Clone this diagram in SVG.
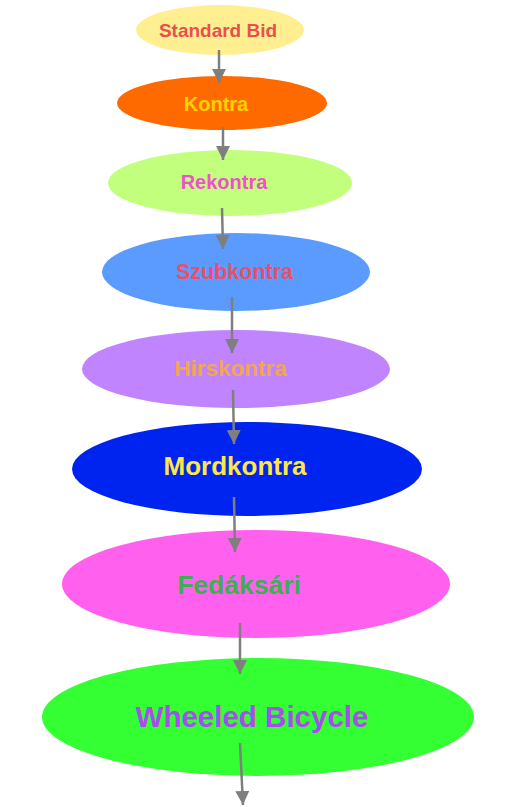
<svg xmlns="http://www.w3.org/2000/svg" width="507" height="807" viewBox="0 0 507 807">
<defs>
<marker id="ah" markerUnits="userSpaceOnUse" markerWidth="14" markerHeight="14" viewBox="0 0 14 14" refX="14" refY="7" orient="auto">
<path d="M0,0 L14,7 L0,14 Z" fill="#7f7f7f"/>
</marker>
</defs>
<style>
.lbl{font-family:"Liberation Sans",Arial,sans-serif;font-weight:bold;text-anchor:middle}
.edge{stroke:#7f7f7f;stroke-width:2.5;fill:none;marker-end:url(#ah)}
</style>
<rect width="507" height="807" fill="#ffffff"/>
<g id="n1"><ellipse cx="220" cy="30" rx="84" ry="25" fill="#ffef91"/><text class="lbl" x="218" y="37" font-size="19" fill="#e8504e">Standard Bid</text></g>
<g id="n2"><ellipse cx="222" cy="103" rx="105" ry="27" fill="#ff6a00"/><text class="lbl" x="216" y="111" font-size="20" fill="#ffd200">Kontra</text></g>
<g id="n3"><ellipse cx="230" cy="183" rx="122" ry="33" fill="#c2ff7c"/><text class="lbl" x="224" y="189" font-size="20" fill="#f050d0">Rekontra</text></g>
<g id="n4"><ellipse cx="236" cy="272" rx="134" ry="39" fill="#5b9bff"/><text class="lbl" x="234.5" y="279" font-size="21.5" fill="#e8506a">Szubkontra</text></g>
<g id="n5"><ellipse cx="236" cy="369" rx="154" ry="39" fill="#c084ff"/><text class="lbl" x="230.5" y="376" font-size="22.5" fill="#f0a848">Hirskontra</text></g>
<g id="n6"><ellipse cx="247" cy="469" rx="175" ry="47" fill="#0024f0"/><text class="lbl" x="235" y="475" font-size="26" fill="#ffe844">Mordkontra</text></g>
<g id="n7"><ellipse cx="256" cy="584" rx="194" ry="54" fill="#ff60ee"/><text class="lbl" x="239" y="594" font-size="26.5" fill="#3cb050">Fedáksári</text></g>
<g id="n8"><ellipse cx="258" cy="717" rx="216" ry="59" fill="#33ff33"/><text class="lbl" x="252" y="727" font-size="29.5" fill="#a84cf0">Wheeled Bicycle</text></g>
<g id="edges">
<line class="edge" x1="219" y1="50" x2="219" y2="83"/>
<line class="edge" x1="223" y1="127" x2="223" y2="160"/>
<line class="edge" x1="222" y1="208" x2="223" y2="249"/>
<line class="edge" x1="232" y1="297" x2="232" y2="353"/>
<line class="edge" x1="233" y1="390" x2="234" y2="444"/>
<line class="edge" x1="234" y1="497" x2="235" y2="552"/>
<line class="edge" x1="240" y1="623" x2="240" y2="674"/>
<line class="edge" x1="240" y1="743" x2="243" y2="805"/>
</g>
</svg>
